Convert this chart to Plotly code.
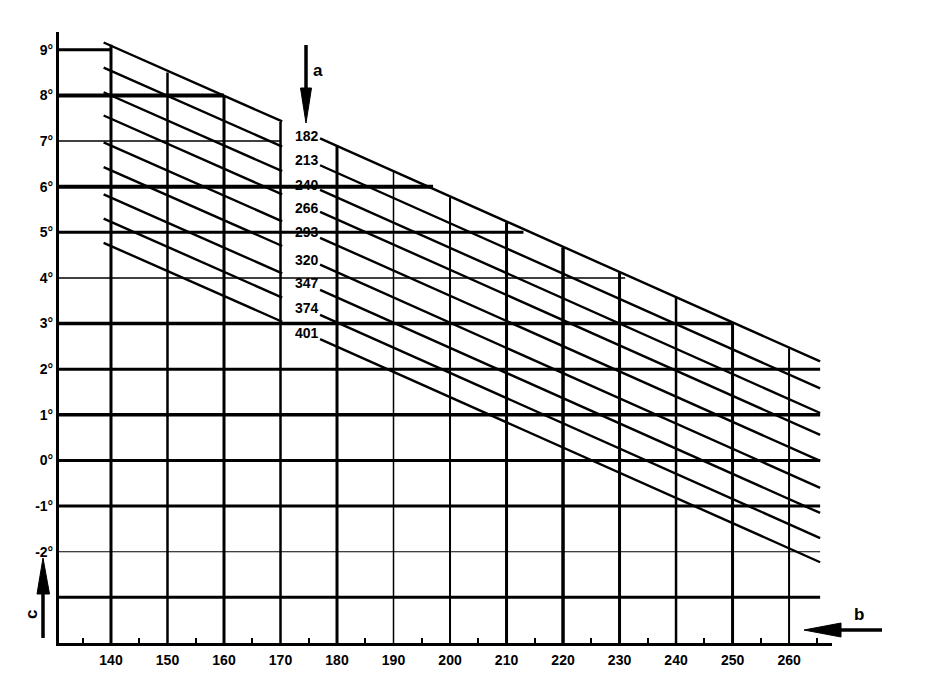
import plotly.graph_objects as go

# ---------------- data ----------------
curve_labels = ["182", "213", "240", "266", "293", "320", "347", "374", "401"]
# left segment (x from 138.7 to 170.3)
left_x = [138.7, 170.3]
left_start_y = [9.16, 8.61, 8.07, 7.56, 6.97, 6.43, 5.83, 5.30, 4.77]
left_end_y = [7.43, 6.88, 6.34, 5.83, 5.24, 4.70, 4.10, 3.57, 3.04]
# right segment (x from 177 to 265.5)
right_x = [177.0, 265.5]
right_start_y = [7.06, 6.47, 5.93, 5.45, 4.88, 4.29, 3.74, 3.19, 2.66]
right_end_y = [2.17, 1.58, 1.04, 0.56, -0.01, -0.60, -1.15, -1.70, -2.23]
# label positions (degrees) of the curve labels
label_y = [7.11, 6.58, 6.03, 5.53, 5.0, 4.39, 3.89, 3.34, 2.8]
label_x = 174.6

x_ticks = [140, 150, 160, 170, 180, 190, 200, 210, 220, 230, 240, 250, 260]
x_tick_text = [str(v) for v in x_ticks]
x_minor = [135, 145, 155, 165, 175, 185, 195, 205, 215, 225, 235, 245, 255, 265]
y_ticks = [9, 8, 7, 6, 5, 4, 3, 2, 1, 0, -1, -2]
y_tick_text = ["9°", "8°", "7°", "6°", "5°", "4°", "3°", "2°", "1°", "0°", "-1°", "-2°"]

# grid: horizontal lines (degree, right end in x units, width)
h_grid_deg = [9, 8, 7, 6, 5, 4, 3, 2, 1, 0, -1, -2, -3]
h_grid_end = [140, 160, 170, 197, 213, 231, 250, 265.5, 265.5, 265.5, 265.5, 265.5, 265.5]
h_grid_w = [3, 4, 1.5, 4, 3, 1.5, 3.5, 3, 3.5, 3, 3, 1.2, 3]
# grid: vertical lines (x value, top in degrees, width)
v_grid_x = [140, 150, 160, 170, 180, 190, 200, 210, 220, 230, 240, 250, 260]
v_grid_top = [9.11, 8.5, 7.97, 7.42, 6.9, 6.32, 5.77, 5.22, 4.67, 4.12, 3.57, 3.01, 2.46]
v_grid_w = [3, 2.5, 3, 2.5, 3, 1.5, 2, 3, 3.5, 3, 2.5, 3, 2]

X_MIN, X_MAX = 130.8, 267.6
Y_MIN, Y_MAX = -4.0, 9.39

FONT = "Liberation Sans"

fig = go.Figure()

shapes = []
for d, xe, w in zip(h_grid_deg, h_grid_end, h_grid_w):
    shapes.append(dict(type="line", xref="x", yref="y", x0=X_MIN, x1=xe, y0=d, y1=d,
                       line=dict(color="black", width=w), layer="below"))
for xv, yt, w in zip(v_grid_x, v_grid_top, v_grid_w):
    shapes.append(dict(type="line", xref="x", yref="y", x0=xv, x1=xv, y0=Y_MIN, y1=yt,
                       line=dict(color="black", width=w), layer="below"))

for i, lab in enumerate(curve_labels):
    fig.add_trace(go.Scatter(
        x=[left_x[0], left_x[1], None, right_x[0], right_x[1]],
        y=[left_start_y[i], left_end_y[i], None, right_start_y[i], right_end_y[i]],
        mode="lines", line=dict(color="black", width=2.4),
        showlegend=False, hoverinfo="skip", name=lab))

annotations = []
for lab, yv in zip(curve_labels, label_y):
    annotations.append(dict(x=label_x, y=yv, xref="x", yref="y", text=lab,
                            xanchor="center", yanchor="middle",
                            showarrow=False, font=dict(size=14, color="black", family=FONT, weight="bold")))

# pixel -> paper helpers (plot area: x 59..832, y 32..643 on screen)
pw, ph = 773.0, 611.0
def px(xp):
    return (xp - 59) / pw
def py(yp):
    return (643 - yp) / ph

def arrow(tail, neck, head_a, head_b, tip):
    shapes.append(dict(type="line", xref="paper", yref="paper",
                       x0=px(tail[0]), y0=py(tail[1]), x1=px(neck[0]), y1=py(neck[1]),
                       line=dict(color="black", width=3.5)))
    path = "M {} {} L {} {} L {} {} Z".format(px(head_a[0]), py(head_a[1]),
                                              px(head_b[0]), py(head_b[1]),
                                              px(tip[0]), py(tip[1]))
    shapes.append(dict(type="path", xref="paper", yref="paper", path=path,
                       fillcolor="black", line=dict(color="black", width=1)))

arrow((306, 45), (306, 92), (300.5, 88), (311.5, 88), (306, 123))
arrow((43, 638), (43, 590), (37, 594), (49.5, 594), (43, 558))
arrow((882, 630), (838, 630), (841, 623), (841, 637), (804, 630))

letter_font = dict(size=17, color="black", family=FONT, weight="bold")
annotations.append(dict(x=px(318), y=py(70), xref="paper", yref="paper", text="a", showarrow=False,
                        xanchor="center", yanchor="middle", font=letter_font))
annotations.append(dict(x=px(859), y=py(614), xref="paper", yref="paper", text="b", showarrow=False,
                        xanchor="center", yanchor="middle", font=letter_font))
annotations.append(dict(x=px(31), y=py(615), xref="paper", yref="paper", text="c", showarrow=False,
                        xanchor="center", yanchor="middle", textangle=-90, font=letter_font))

fig.update_layout(
    width=928, height=694,
    margin=dict(l=51, r=104, t=24, b=59),
    paper_bgcolor="white", plot_bgcolor="white",
    shapes=shapes, annotations=annotations,
    showlegend=False,
    font=dict(family=FONT, size=14, color="black", weight="bold"),
    xaxis=dict(range=[X_MIN, X_MAX], showgrid=False, zeroline=False,
               showline=True, linecolor="black", linewidth=3,
               tickmode="array", tickvals=x_ticks, ticktext=x_tick_text,
               ticks="", ticklabelstandoff=2,
               tickfont=dict(size=14, family=FONT, weight="bold"),
               minor=dict(tickmode="array", tickvals=x_minor, ticks="inside",
                          ticklen=5, tickwidth=2, tickcolor="black")),
    yaxis=dict(range=[Y_MIN, Y_MAX], showgrid=False, zeroline=False,
               showline=True, linecolor="black", linewidth=3,
               tickmode="array", tickvals=y_ticks, ticktext=y_tick_text,
               ticks="", ticklabelstandoff=0,
               tickfont=dict(size=14, family=FONT, weight="bold")),
)

fig.write_html("out.html")
